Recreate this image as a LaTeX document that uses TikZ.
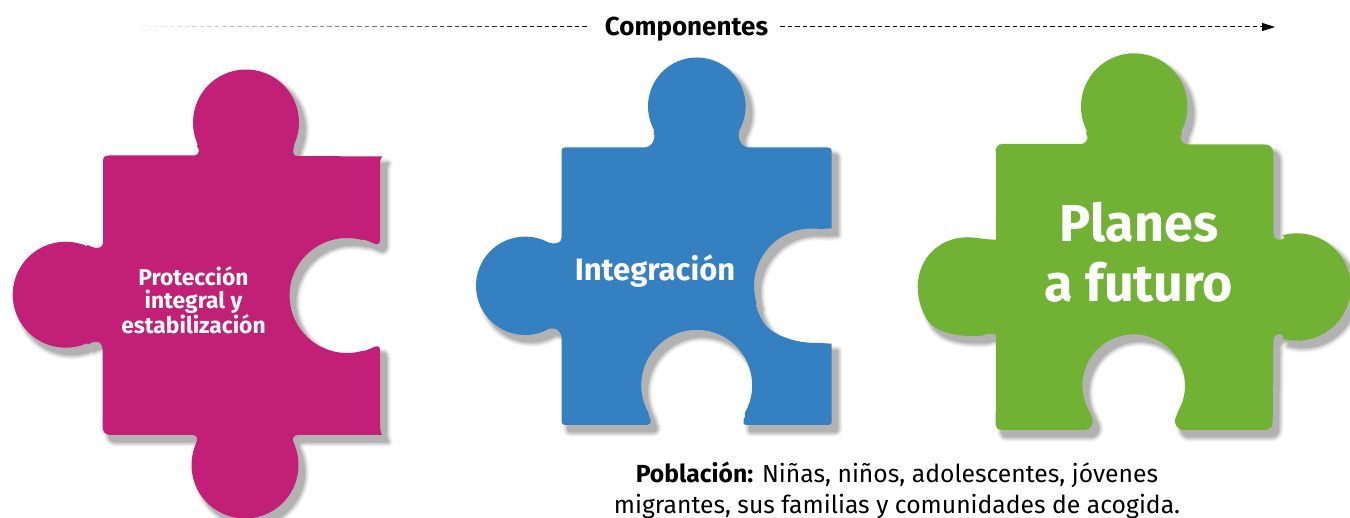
\documentclass[tikz,border=0pt]{standalone}
\usepackage{fontspec}
\setmainfont{Fira Sans}
\usetikzlibrary{calc,arrows.meta}
\definecolor{pinkpc}{HTML}{C21F77}
\definecolor{bluepc}{HTML}{3580C1}
\definecolor{greenpc}{HTML}{71B235}
\newcommand{\pinkpath}{
 (103,243) -- (103,161) .. controls (103,157) and (105,155.5) .. (109,155.5)
 -- (194,155.5) .. controls (198,155.5) and (199.5,152) .. (198.5,149)
 .. controls (197,146) and (196,144) .. ($(246,122.5)+(155:53)$)
 arc[start angle=155,delta angle=230,radius=53]
 .. controls (295,144) and (293,150) .. (293,152)
 .. controls (293,155) and (295,156) .. (297,156)
 -- (382,156.5) .. controls (380,160) and (380,162) .. (380,165)
 -- (380,240) .. controls (380,244) and (377,245) .. (374,243.5)
 .. controls (369,241) and (362,238.5) .. ($(347,295.5)+(-75:57.5)$)
 arc[start angle=-75,delta angle=-210,radius=57.5]
 .. controls (362,352) and (369,349.5) .. (374,347)
 .. controls (377,345.5) and (380,346) .. (380,350)
 -- (380,425) .. controls (380,430) and (381,433) .. (382,435)
 -- (298,435) .. controls (294,435) and (292,438) .. (293,441)
 .. controls (294,443) and (295.5,447) .. ($(245,465)+(-15:53.5)$)
 arc[start angle=-15,delta angle=210,radius=53.5]
 .. controls (194.5,447) and (196,443) .. (197,441)
 .. controls (198,438) and (196,435) .. (193,435)
 -- (111,435) .. controls (105,435) and (102.5,432) .. (102.5,426)
 -- (102.5,349) .. controls (102.5,343) and (98,340) .. (92,342.5)
 .. controls (89,344) and (86,345.5) .. ($(65.7,294.7)+(66:53)$)
 arc[start angle=66,delta angle=228,radius=53]
 .. controls (86,244) and (89,245.5) .. (92,247)
 .. controls (97,249) and (103,248) .. (103,243) -- cycle }
\newcommand{\bluepath}{
 (561.5,238) -- (561.5,151) .. controls (561.5,148.5) and (563,147.5) .. (565,147.5)
 -- (645,147.5) .. controls (650,147.5) and (655,141) .. (654.5,136)
 .. controls (654,133) and (653,131) .. ($(696.8,106.3)+(151:48.8)$)
 arc[start angle=151,delta angle=238,radius=48.8]
 .. controls (739.5,131) and (738.5,133) .. (738.5,136)
 .. controls (738.5,141) and (743,147.5) .. (748.5,147.5)
 -- (828,147.5) .. controls (830.5,147.5) and (831.7,149) .. (831.7,151)
 -- (831.7,228.3) -- (820,229)
 .. controls (816,228.5) and (814,228.3) .. ($(811.5,286)+(-87:57.5)$)
 arc[start angle=-87,delta angle=-110,radius=57.5]
 .. controls (754.5,304) and (759,317) .. (766.5,326.5)
 .. controls (775,335) and (795,343.5) .. (817,342.8)
 -- (831.7,343.7) -- (831.7,421.5)
 .. controls (831.7,424) and (830.5,425) .. (828,425)
 -- (746.5,425) .. controls (743.5,425) and (742.5,422) .. (743.5,420)
 .. controls (745,417) and (746,414) .. ($(696.7,385.3)+(30:55.5)$)
 arc[start angle=30,delta angle=-240,radius=55.5]
 .. controls (648,414) and (649.5,417) .. (650.7,420)
 .. controls (651.5,422.5) and (650,425) .. (647,425)
 -- (565,425) .. controls (563,425) and (561.7,424) .. (561.7,421.5)
 -- (561.7,338) .. controls (561.7,332) and (556,327) .. (550,328.5)
 .. controls (547,329.5) and (544,331) .. ($(525.2,285.8)+(66:49.2)$)
 arc[start angle=66,delta angle=228,radius=49.2]
 .. controls (544,240.5) and (547,242) .. (550,243)
 .. controls (555,244.5) and (561.5,243) .. (561.5,238) -- cycle }
\newcommand{\greenpath}{
 (996,239.5) -- (996,152) .. controls (995,150) and (995.5,149.5) .. (997,147)
 .. controls (998,144.5) and (1000,144) .. (1003,144)
 -- (1081,144) .. controls (1085,144) and (1088,140) .. (1087.5,137)
 .. controls (1086.5,134) and (1085,132) .. ($(1134.2,106.5)+(153:53.2)$)
 arc[start angle=153,delta angle=234,radius=53.2]
 .. controls (1183,132) and (1181,134) .. (1180.5,137)
 .. controls (1180,140) and (1183,144.3) .. (1188,144.3)
 -- (1263,144.3) .. controls (1270,144.3) and (1273.3,147) .. (1273.3,154)
 -- (1273.3,232) .. controls (1273.3,238) and (1277,241) .. (1282,239.5)
 .. controls (1284,238.5) and (1286,237) .. ($(1297,287)+(254:53.7)$)
 arc[start angle=254,delta angle=212,radius=53.7]
 .. controls (1285,336.5) and (1283,335.5) .. (1281,334.5)
 .. controls (1277,333) and (1273.3,336) .. (1273.3,341)
 -- (1272.7,421) .. controls (1272.7,427) and (1270,430) .. (1264,430)
 -- (1184,430) .. controls (1177,430) and (1173.5,423) .. (1175.3,418.5)
 .. controls (1176.5,416) and (1177.5,413) .. ($(1133.7,385.6)+(30:51.3)$)
 arc[start angle=30,delta angle=-240,radius=51.3]
 .. controls (1090,413) and (1091,416) .. (1092.3,418.5)
 .. controls (1094,423) and (1091,430) .. (1085,430)
 -- (1002,430) .. controls (998,430) and (996,428) .. (995.7,425)
 -- (996,334.5) .. controls (990,333) and (987,334) .. (982,335.7)
 .. controls (977,336) and (973,336) .. (969,336)
 .. controls (950,335) and (936,331) .. (928,321)
 .. controls (922,312) and (917.7,300) .. (917.7,287)
 .. controls (917.7,258) and (940,237.3) .. (967,237.3)
 .. controls (978,237.3) and (986,240) .. (996,239.5) -- cycle }
\tikzset{
 shadowlayer/.style={line join=round,shift={(6,7)}},
 piecetext/.style={text=white,align=center,inner sep=0pt},
}
\begin{document}
\begin{tikzpicture}[x=1pt,y=-1pt]
\useasboundingbox (0,0) rectangle (1350,518);
\clip (0,0) rectangle (1350,518);
\fill[white] (0,0) rectangle (1350,518);
\foreach \w/\c in {10/2,9/4,8/6,7/9,6/12,5/15,4/18,3/21,2/24,1/27,0/30}{
 \path[shadowlayer,fill=black!\c,draw=black!\c,line width=\w pt] \pinkpath;
 \path[shadowlayer,fill=black!\c,draw=black!\c,line width=\w pt] \bluepath;
 \path[shadowlayer,fill=black!\c,draw=black!\c,line width=\w pt] \greenpath;
}
\fill[pinkpc] \pinkpath;
\fill[bluepc] \bluepath;
\fill[greenpc] \greenpath;
\node[piecetext,font=\fontsize{22.8}{23.3}\selectfont\bfseries] (proteccion) at (193.5,300) {Protección\\integral y\\estabilización};
\node[piecetext,font=\fontsize{31}{33}\selectfont\bfseries,anchor=base] (integracion) at (655,280.5) {Integración};
\node[piecetext,font=\fontsize{52}{59.5}\selectfont\bfseries,anchor=base] (planes) at (1139,301.5) {Planes\\a futuro};
\node[font=\fontsize{26}{28}\selectfont\bfseries,inner sep=0pt,anchor=base] (comp) at (686.5,36) {Componentes};
\coordinate (fin) at (1275,27);
\coordinate (ini) at (585,27);
\draw[line width=1pt,dash pattern=on 4.5pt off 3pt,-{Triangle[length=13pt,width=8pt]}] (780,27) -- (fin);
\foreach \i in {0,...,60}{
 \pgfmathsetmacro\t{max(0,min(100,\i*1.7+2))}
 \draw[line width=1pt,black!\t] ($(ini)+(-3-7.5*60+7.5*\i,0)$) -- ++(4.5,0);
}
\node[font=\fontsize{24.7}{31}\selectfont,align=center,inner sep=0pt,anchor=base] (poblacion) at (897,513) {\textbf{Población:} Niñas, niños, adolescentes, jóvenes\\migrantes, sus familias y comunidades de acogida.};
\end{tikzpicture}
\end{document}
